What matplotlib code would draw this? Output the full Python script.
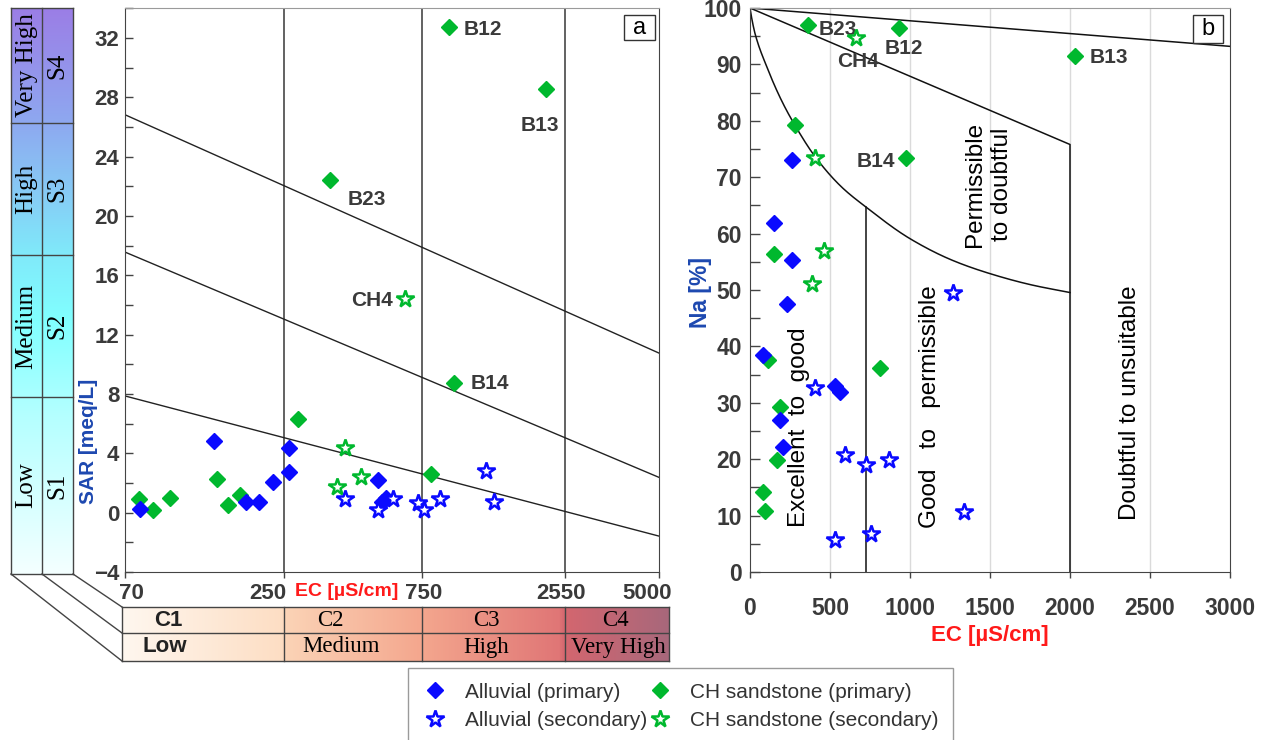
import numpy as np
import matplotlib
matplotlib.use('Agg')
import matplotlib.pyplot as plt
from matplotlib import font_manager
from matplotlib.colors import LinearSegmentedColormap
from matplotlib.lines import Line2D
from matplotlib.patches import Rectangle
from matplotlib.ticker import MultipleLocator, NullLocator
from matplotlib.transforms import ScaledTranslation

# ---------------- data ----------------
# Panel a : EC (uS/cm) vs SAR
A_ALLU_PRI_EC = [79, 143, 184, 205, 228, 259, 259, 527, 545, 565]
A_ALLU_PRI_SAR = [0.24, 4.82, 0.71, 0.71, 2.04, 4.38, 2.76, 2.22, 0.75, 1.0]
A_ALLU_SEC_EC = [407, 527, 597, 731, 764, 865, 1257, 1342]
A_ALLU_SEC_SAR = [0.93, 0.16, 0.93, 0.64, 0.2, 0.89, 2.78, 0.71]
A_CH_PRI_EC = [78, 87.5, 100, 146, 160, 176, 279, 360, 811, 931, 975, 2034]
A_CH_PRI_SAR = [0.93, 0.2, 0.98, 2.24, 0.53, 1.16, 6.29, 22.45, 2.6, 32.74, 8.76, 28.56]
A_CH_SEC_EC = [382, 407, 461, 658]
A_CH_SEC_SAR = [1.71, 4.38, 2.38, 14.38]

A_LABELS = ['B12', 'B13', 'B23', 'CH4', 'B14']
A_LABEL_EC = [1050, 1925, 485, 595, 1105]
A_LABEL_SAR = [32.6, 26.1, 21.1, 14.3, 8.7]
A_LABEL_HA = ['left', 'center', 'center', 'right', 'left']

SAR_LINE_EC = [70, 5000]
SAR_LINE_1 = [7.87, -1.58]
SAR_LINE_2 = [17.57, 2.38]
SAR_LINE_3 = [26.83, 10.76]
C_BOUNDS = [250, 750, 2350]
A_XTICKS = [70, 250, 750, 2350, 5000]
A_XTICKLABELS = ['70', '250', '750', '2550', '5000']
A_YTICKS = list(range(-4, 33, 4))

C_CLASSES = ['C1', 'C2', 'C3', 'C4']
C_NAMES = ['Low', 'Medium', 'High', 'Very High']
S_CLASSES = ['S4', 'S3', 'S2', 'S1']
S_NAMES = ['Very High', 'High', 'Medium', 'Low']

# Panel b : EC vs Na%
B_ALLU_PRI_EC = [263, 147, 263, 231, 79, 530, 564, 186, 208]
B_ALLU_PRI_NA = [73.0, 61.8, 55.4, 47.6, 38.5, 33.0, 31.9, 27.0, 22.2]
B_ALLU_SEC_EC = [1267, 408, 594, 725, 866, 1337, 530, 759]
B_ALLU_SEC_NA = [49.5, 32.7, 20.8, 18.9, 19.9, 10.6, 5.7, 6.8]
B_CH_PRI_EC = [360, 931, 2030, 281, 974, 147, 111, 811, 190, 168, 79, 91]
B_CH_PRI_NA = [97.05, 96.4, 91.56, 79.2, 73.45, 56.3, 37.6, 36.2, 29.2, 19.8, 14.2, 10.9]
B_CH_SEC_EC = [662, 408, 462, 385]
B_CH_SEC_NA = [94.7, 73.45, 56.9, 51.0]

B_LABELS = ['B23', 'B12', 'CH4', 'B13', 'B14']
B_LABEL_EC = [430, 963, 676, 2125, 910]
B_LABEL_NA = [96.1, 92.9, 90.6, 91.2, 72.8]
B_LABEL_HA = ['left', 'center', 'center', 'left', 'right']

TOP_LINE_EC = [0, 3000]
TOP_LINE_NA = [100, 93.2]
MID_LINE_EC = [0, 2000, 2000]
MID_LINE_NA = [100, 75.8, 0]
LOW_CURVE_EC = [0, 10, 32, 106, 197, 281, 408, 571, 725, 1000, 1262, 1500, 1760, 2000]
LOW_CURVE_NA = [100, 98.3, 95.4, 89.5, 83.6, 79.2, 73.6, 68.3, 64.7, 59.1, 55.3, 52.9, 50.9, 49.55]
EXC_LINE_EC = [725, 725]
EXC_LINE_NA = [0, 64.7]
B_XTICKS = list(range(0, 3001, 500))
B_YTICKS = list(range(0, 101, 10))

# ---------------- style ----------------
names = {f.name for f in font_manager.fontManager.ttflist}
NARROW = 'Liberation Sans Narrow' if 'Liberation Sans Narrow' in names else 'Liberation Sans'
SANS = 'Liberation Sans'
SERIF = 'Liberation Serif'
plt.rcParams['font.family'] = [NARROW, 'DejaVu Sans']
plt.rcParams['font.weight'] = 'bold'

BLUE = '#0a0aff'
GREEN = '#00b82e'
TXT = '#3a3a3a'
AXBLUE = '#1d48b0'
RED = '#ff1a1a'

W, H = 1261, 740
fig = plt.figure(figsize=(W / 100, H / 100), dpi=100)


def fr(x0, y0, x1, y1):
    return [x0 / W, 1 - y1 / H, (x1 - x0) / W, (y1 - y0) / H]


def smooth_curve(x, y, n=400):
    """Monotone cubic (Fritsch-Carlson) rendering of a boundary curve."""
    x = np.asarray(x, float)
    y = np.asarray(y, float)
    h = np.diff(x)
    d = np.diff(y) / h
    m = np.zeros_like(y)
    m[0], m[-1] = d[0], d[-1]
    for k in range(1, len(x) - 1):
        if d[k - 1] * d[k] > 0:
            w1 = 2 * h[k] + h[k - 1]
            w2 = h[k] + 2 * h[k - 1]
            m[k] = (w1 + w2) / (w1 / d[k - 1] + w2 / d[k])
    xn = np.linspace(x[0], x[-1], n)
    idx = np.clip(np.searchsorted(x, xn) - 1, 0, len(x) - 2)
    t = (xn - x[idx]) / h[idx]
    h00 = 2 * t ** 3 - 3 * t ** 2 + 1
    h10 = t ** 3 - 2 * t ** 2 + t
    h01 = -2 * t ** 3 + 3 * t ** 2
    h11 = t ** 3 - t ** 2
    yn = h00 * y[idx] + h10 * h[idx] * m[idx] + h01 * y[idx + 1] + h11 * h[idx] * m[idx + 1]
    return xn, yn


# ---------- overlay (decorations) ----------
ax_o = fig.add_axes([0, 0, 1, 1], zorder=0)
ax_o.axis('off')

sal_cmap = LinearSegmentedColormap.from_list(
    'sal', [(0, '#9b7ee6'), (0.2, '#8ea8f0'), (0.43, '#80e8fa'), (0.55, '#80ffff'),
            (0.72, '#b4ffff'), (1, '#f4ffff')])
grad_v = np.linspace(0, 1, 256).reshape(-1, 1)
ax_o.imshow(grad_v, cmap=sal_cmap, extent=(11, 73, 574, 8), aspect='auto', origin='upper')

c_cmap = LinearSegmentedColormap.from_list(
    'cband', [(0, '#fff7ef'), (0.29, '#fddec4'), (0.30, '#fbd3b6'), (0.545, '#f4a78e'),
              (0.8, '#e07676'), (0.81, '#d4666f'), (1, '#a8687b')])
grad_h = np.linspace(0, 1, 256).reshape(1, -1)
ax_o.imshow(grad_h, cmap=c_cmap, extent=(122, 669, 661, 607), aspect='auto', origin='upper')

# salinity column frame
LC = '#444444'
row_y = [8, 123, 255, 397, 574]
for x in (11, 42, 73):
    ax_o.plot([x, x], [8, 574], color=LC, lw=1)
for y in row_y:
    ax_o.plot([11, 73], [y, y], color=LC, lw=1)
for i in range(4):
    yc = (row_y[i] + row_y[i + 1]) / 2
    ax_o.text(26.5, yc, S_NAMES[i], rotation=90, ha='center', va='center',
              family=SERIF, weight='normal', fontsize=18, color='black')
    ax_o.text(57.5, yc, S_CLASSES[i], rotation=90, ha='center', va='center',
              family=SERIF, weight='normal', fontsize=18, color='black')

# perspective lines
ax_o.plot([11, 122], [574, 661], color=LC, lw=1)
ax_o.plot([42, 122], [574, 633], color=LC, lw=1)
ax_o.plot([73, 122], [574, 607], color=LC, lw=1)

# conductivity band (x aligned with log scale of panel a)
AX_L, AX_R = 125, 659
span = np.log10(5000 / 70)


def px_ec(v):
    return AX_L + (np.log10(v) - np.log10(70)) / span * (AX_R - AX_L)


band_edges = [122] + [px_ec(v) for v in C_BOUNDS] + [669]
for x in band_edges:
    ax_o.plot([x, x], [607, 661], color=LC, lw=1)
for y in (607, 633, 661):
    ax_o.plot([122, 669], [y, y], color=LC, lw=1)
c_text_x = [168, 330, 486, 615]
n_text_x = [165, 341, 486, 618]
for i in range(4):
    if i == 0:
        ax_o.text(c_text_x[i], 620, C_CLASSES[i], ha='center', va='center',
                  family=NARROW, weight='bold', fontsize=16, color='#222222')
        ax_o.text(n_text_x[i], 647, C_NAMES[i], ha='center', va='center',
                  family=NARROW, weight='bold', fontsize=16, color='#222222')
    else:
        ax_o.text(c_text_x[i], 620, C_CLASSES[i], ha='center', va='center',
                  family=SERIF, weight='normal', fontsize=16.5, color='black')
        ax_o.text(n_text_x[i], 647, C_NAMES[i], ha='center', va='center',
                  family=SERIF, weight='normal', fontsize=16.5, color='black')

ax_o.set_xlim(0, W)
ax_o.set_ylim(H, 0)

# ---------- panel a ----------
ax_a = fig.add_axes(fr(AX_L, 8.4, AX_R, 572), zorder=1)
ax_a.set_xscale('log')
for xs, ys in ((SAR_LINE_EC, SAR_LINE_1), (SAR_LINE_EC, SAR_LINE_2), (SAR_LINE_EC, SAR_LINE_3)):
    ax_a.plot(xs, ys, color='#222222', lw=1.0, zorder=2)
for v in C_BOUNDS:
    ax_a.axvline(v, color='#555555', lw=1.3, zorder=1)

dkw = dict(marker='D', ms=8.5, ls='none', zorder=4)
skw = dict(marker='*', ms=13, ls='none', mfc='white', mew=1.8, zorder=5)
ax_a.plot(A_CH_PRI_EC, A_CH_PRI_SAR, color=GREEN, **dkw)
ax_a.plot(A_CH_SEC_EC, A_CH_SEC_SAR, color=GREEN, mec=GREEN, **skw)
ax_a.plot(A_ALLU_PRI_EC, A_ALLU_PRI_SAR, color=BLUE, **dkw)
ax_a.plot(A_ALLU_SEC_EC, A_ALLU_SEC_SAR, color=BLUE, mec=BLUE, **skw)
for lab, x, y, ha in zip(A_LABELS, A_LABEL_EC, A_LABEL_SAR, A_LABEL_HA):
    ax_a.text(x, y, lab, ha=ha, va='center', fontsize=15, color=TXT)

ax_a.set_xlim(70, 5000)
ax_a.set_ylim(-4, 34)
ax_a.set_xticks(A_XTICKS)
ax_a.set_xticklabels(A_XTICKLABELS)
ax_a.xaxis.set_minor_locator(NullLocator())
ax_a.set_yticks(A_YTICKS)
ax_a.yaxis.set_minor_locator(MultipleLocator(2))
ax_a.tick_params(axis='y', which='both', direction='in', length=6, width=1,
                 color='#444444', labelsize=16, labelcolor=TXT, pad=4)
ax_a.tick_params(axis='x', which='both', direction='out', length=4, width=1,
                 color='#444444', labelsize=16, labelcolor=TXT, pad=4)
offs = [6, -16, 2, -4, -12]
for lbl, dx in zip(ax_a.get_xticklabels(), offs):
    lbl.set_transform(lbl.get_transform() + ScaledTranslation(dx / 100, 0, fig.dpi_scale_trans))
for s, c in (('top', '#9a9a9a'), ('right', '#444444'), ('left', '#444444'), ('bottom', '#444444')):
    ax_a.spines[s].set_color(c)
ax_a.text((347 - AX_L) / (AX_R - AX_L), (572 - 591) / 563.6, 'EC [µS/cm]', transform=ax_a.transAxes,
          ha='center', va='center', fontsize=14, color=RED)
ax_a.text((89 - AX_L) / (AX_R - AX_L), (572 - 441) / 563.6, 'SAR [meq/L]', transform=ax_a.transAxes,
          ha='center', va='center', rotation=90, fontsize=15, color=AXBLUE)
ax_a.add_patch(Rectangle(((624 - AX_L) / 534, (572 - 40) / 563.6), 31 / 534, 25 / 563.6,
                         transform=ax_a.transAxes, fc='white', ec='#333333', lw=1, zorder=6))
ax_a.text((639.5 - AX_L) / 534, (572 - 28) / 563.6, 'a', transform=ax_a.transAxes, ha='center',
          va='center', family=SANS, weight='normal', fontsize=17, color='black', zorder=7)

# ---------- panel b ----------
BL, BR, BT, BB = 750, 1230, 8, 572
ax_b = fig.add_axes(fr(BL, BT, BR, BB), zorder=1)
for v in B_XTICKS[1:-1]:
    ax_b.axvline(v, color='#dadada', lw=1, zorder=0)
lkw = dict(color='#111111', lw=1.1, zorder=2)
ax_b.plot(TOP_LINE_EC, TOP_LINE_NA, **lkw)
ax_b.plot(MID_LINE_EC, MID_LINE_NA, **lkw)
cx, cy = smooth_curve(LOW_CURVE_EC, LOW_CURVE_NA)
ax_b.plot(cx, cy, **lkw)
ax_b.plot(EXC_LINE_EC, EXC_LINE_NA, **lkw)

ax_b.plot(B_CH_PRI_EC, B_CH_PRI_NA, color=GREEN, **dkw)
ax_b.plot(B_CH_SEC_EC, B_CH_SEC_NA, color=GREEN, mec=GREEN, **skw)
ax_b.plot(B_ALLU_PRI_EC, B_ALLU_PRI_NA, color=BLUE, **dkw)
ax_b.plot(B_ALLU_SEC_EC, B_ALLU_SEC_NA, color=BLUE, mec=BLUE, **skw)
for lab, x, y, ha in zip(B_LABELS, B_LABEL_EC, B_LABEL_NA, B_LABEL_HA):
    ax_b.text(x, y, lab, ha=ha, va='center', fontsize=15, color=TXT)

zkw = dict(rotation=90, ha='center', va='center', family=SANS, weight='normal',
           fontsize=17.5, color='black')
ax_b.text(306, 25.7, 'Excellent  to  good', **zkw)
ax_b.text(1124, 29.3, 'Good   to   permissible', **zkw)
ax_b.text(1490, 68.7, 'Permissible\nto doubtful', linespacing=1.3, multialignment='center', **zkw)
ax_b.text(2373, 30, 'Doubtful to unsuitable', **zkw)

ax_b.set_xlim(0, 3000)
ax_b.set_ylim(0, 100)
ax_b.set_xticks(B_XTICKS)
ax_b.set_yticks(B_YTICKS)
ax_b.yaxis.set_minor_locator(MultipleLocator(5))
ax_b.tick_params(axis='y', which='both', direction='in', length=7, width=1,
                 color='#444444', labelsize=16.5, labelcolor=TXT, pad=6)
ax_b.tick_params(axis='x', which='both', direction='out', length=4, width=1,
                 color='#444444', labelsize=16.5, labelcolor=TXT, pad=14)
for s, c in (('top', '#9a9a9a'), ('right', '#444444'), ('left', '#444444'), ('bottom', '#444444')):
    ax_b.spines[s].set_color(c)
ax_b.text(0.5, (BB - 635) / (BB - BT), 'EC [µS/cm]', transform=ax_b.transAxes,
          ha='center', va='center', fontsize=16, color=RED)
ax_b.text((700 - BL) / (BR - BL), (BB - 292) / (BB - BT), 'Na [%]', transform=ax_b.transAxes,
          ha='center', va='center', rotation=90, fontsize=16.5, color=AXBLUE)
ax_b.add_patch(Rectangle(((1193 - BL) / 480, (BB - 43) / 564), 30 / 480, 28 / 564,
                         transform=ax_b.transAxes, fc='white', ec='#333333', lw=1, zorder=6))
ax_b.text((1208 - BL) / 480, (BB - 29) / 564, 'b', transform=ax_b.transAxes, ha='center',
          va='center', family=SANS, weight='normal', fontsize=17, color='black', zorder=7)

# ---------- legend ----------
handles = [
    Line2D([], [], color=BLUE, marker='D', ms=8.5, ls='none'),
    Line2D([], [], color=BLUE, marker='*', ms=13, mfc='white', mec=BLUE, mew=1.8, ls='none'),
    Line2D([], [], color=GREEN, marker='D', ms=8.5, ls='none'),
    Line2D([], [], color=GREEN, marker='*', ms=13, mfc='white', mec=GREEN, mew=1.8, ls='none'),
]
labels = ['Alluvial (primary)', 'Alluvial (secondary)', 'CH sandstone (primary)',
          'CH sandstone (secondary)']
leg = fig.legend(handles, labels, ncol=2, loc='upper left', bbox_to_anchor=(408 / W, 1 - 668 / H),
                 frameon=True, fancybox=False, edgecolor='#9a9a9a', framealpha=1,
                 prop={'family': SANS, 'weight': 'normal', 'size': 15},
                 labelcolor='#333333', handletextpad=0.85, columnspacing=0.0,
                 borderpad=0.7, labelspacing=0.45, handlelength=1.2, borderaxespad=0)
leg.get_frame().set_linewidth(1)

fig.savefig('out.png', dpi=100)
